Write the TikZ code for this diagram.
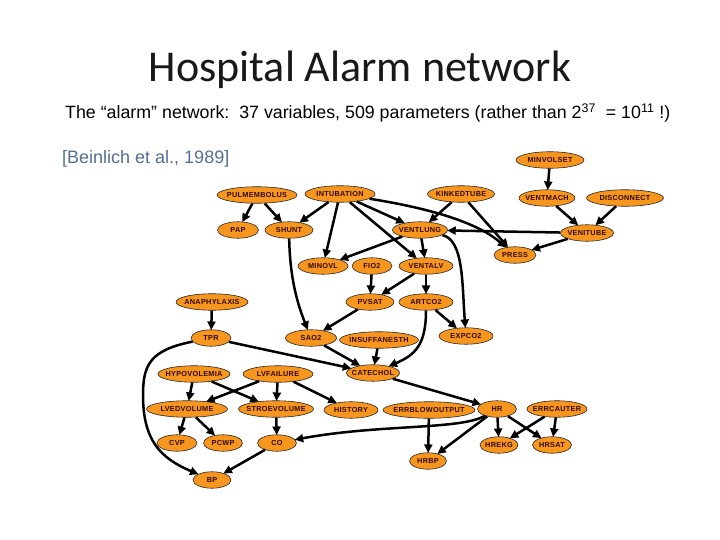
\documentclass[tikz,border=0pt]{standalone}
\usepackage{fontspec}
\setmainfont{Liberation Sans}
\newfontfamily\titlefont{Carlito}
\newfontfamily\nodefont[LetterSpace=4]{Liberation Sans}
\usetikzlibrary{shapes.geometric,arrows.meta}
\definecolor{nodeorange}{RGB}{247,150,30}
\definecolor{nodetext}{RGB}{50,10,0}
\definecolor{citeblue}{RGB}{84,110,145}
\tikzset{
  nd/.style={ellipse, draw=black!85, line width=0.6pt, fill=nodeorange, inner sep=0pt,
    minimum height=16.5pt, text=nodetext, font=\nodefont\bfseries\fontsize{7.3}{8}\selectfont},
  edge/.style={-{Triangle[length=8.5pt,width=8pt]}, line width=2.5pt, black, shorten >=-0.5pt}
}
\newcommand\anode[5]{\node[nd, minimum width=#4pt] (#1) at (#2,#3) {\makebox[0pt]{#5}};}
\begin{document}
\begin{tikzpicture}[x=1pt,y=-1pt]
\useasboundingbox (0,0) rectangle (720,540);
\node[font=\titlefont\fontsize{44}{52}\selectfont, text=black!90, anchor=base] (title) at (360,82) {Hospital Alarm network};
\node[font=\fontsize{17.8}{21}\selectfont, anchor=base west, inner sep=0pt] (sub) at (65,119)
  {The “alarm” network:\ \ 37 variables, 509 parameters (rather than 2\textsuperscript{37}\ \ = 10\textsuperscript{11}\ !)};
\node[font=\fontsize{18}{21}\selectfont, text=citeblue, anchor=base west, inner sep=0pt] (cite) at (62,164) {[Beinlich et al., 1989]};

\anode{minvolset}{550}{160}{68}{MINVOLSET}
\anode{ventmach}{547}{198}{56}{VENTMACH}
\anode{disconnect}{625}{198}{77}{DISCONNECT}
\anode{venitube}{587}{233}{53}{VENITUBE}
\anode{press}{515}{255}{42}{PRESS}
\anode{kinkedtube}{461}{194}{67}{KINKEDTUBE}
\anode{intubation}{340}{194}{70}{INTUBATION}
\anode{ventlung}{420}{230}{55}{VENTLUNG}
\anode{pulmembolus}{257}{195}{80}{PULMEMBOLUS}
\anode{pap}{238}{230}{41}{PAP}
\anode{shunt}{289}{230}{48}{SHUNT}
\anode{minovl}{323}{266}{50}{MINOVL}
\anode{fio2}{372}{266}{40}{FIO2}
\anode{ventalv}{426}{266}{54}{VENTALV}
\anode{pvsat}{370}{302}{48}{PVSAT}
\anode{artco2}{426}{302}{54}{ARTCO2}
\anode{anaphylaxis}{212}{302}{72}{ANAPHYLAXIS}
\anode{tpr}{211}{338}{40}{TPR}
\anode{sao2}{311}{338}{51}{SAO2}
\anode{insuffanesth}{379}{340}{79}{INSUFFANESTH}
\anode{expco2}{466}{336}{54}{EXPCO2}
\anode{catechol}{373}{373}{53}{CATECHOL}
\anode{hypovolemia}{194}{374}{72}{HYPOVOLEMIA}
\anode{lvfailure}{278}{374}{70}{LVFAILURE}
\anode{lvedvolume}{187}{409}{81}{LVEDVOLUME}
\anode{stroevolume}{276}{409}{75}{STROEVOLUME}
\anode{history}{351}{410}{54}{HISTORY}
\anode{errblowoutput}{429}{410}{92}{ERRBLOWOUTPUT}
\anode{hr}{497}{409}{39}{HR}
\anode{errcauter}{557}{409}{60}{ERRCAUTER}
\anode{hrekg}{499}{445}{38}{HREKG}
\anode{hrsat}{552}{445}{39}{HRSAT}
\anode{hrbp}{428}{461}{37}{HRBP}
\anode{cvp}{177}{443}{40}{CVP}
\anode{pcwp}{223}{443}{39}{PCWP}
\anode{co}{277}{443}{39}{CO}
\anode{bp}{212}{480}{38}{BP}

\draw[edge] (minvolset) -- (ventmach);
\draw[edge] (ventmach) -- (venitube);
\draw[edge] (disconnect) -- (venitube);
\draw[edge] (venitube) -- (press);
\draw[edge] (venitube) -- (ventlung);
\draw[edge] (kinkedtube) -- (ventlung);
\draw[edge] (kinkedtube) -- (press);
\draw[edge] (intubation) .. controls (440,210) and (480,225) .. (press);
\draw[edge] (intubation) -- (ventlung);
\draw[edge] (intubation) -- (shunt);
\draw[edge] (intubation) -- (minovl);
\draw[edge] (intubation) -- (ventalv);
\draw[edge] (pulmembolus) -- (pap);
\draw[edge] (pulmembolus) -- (shunt);
\draw[edge] (shunt) .. controls (290,280) and (298,305) .. (sao2);
\draw[edge] (ventlung) -- (minovl);
\draw[edge] (ventlung) -- (ventalv);
\draw[edge] (ventlung) .. controls (464,240) and (462,285) .. (expco2);
\draw[edge] (fio2) -- (pvsat);
\draw[edge] (ventalv) -- (pvsat);
\draw[edge] (ventalv) -- (artco2);
\draw[edge] (pvsat) -- (sao2);
\draw[edge] (artco2) -- (expco2);
\draw[edge] (artco2) .. controls (426,345) and (415,355) .. (catechol);
\draw[edge] (anaphylaxis) -- (tpr);
\draw[edge] (tpr) -- (catechol);
\draw[edge] (tpr) .. controls (150,350) and (143,365) .. (143,395) .. controls (143,440) and (160,458) .. (bp);
\draw[edge] (sao2) -- (catechol);
\draw[edge] (insuffanesth) -- (catechol);
\draw[edge] (catechol) -- (hr);
\draw[edge] (hypovolemia) -- (lvedvolume);
\draw[edge] (hypovolemia) -- (stroevolume);
\draw[edge] (lvfailure) -- (lvedvolume);
\draw[edge] (lvfailure) -- (stroevolume);
\draw[edge] (lvfailure) -- (history);
\draw[edge] (lvedvolume) -- (cvp);
\draw[edge] (lvedvolume) -- (pcwp);
\draw[edge] (stroevolume) -- (co);
\draw[edge] (co) -- (bp);
\draw[edge] (hr) .. controls (460,430) and (380,424) .. (co);
\draw[edge] (hr) -- (hrbp);
\draw[edge] (hr) -- (hrekg);
\draw[edge] (hr) -- (hrsat);
\draw[edge] (errblowoutput) -- (hrbp);
\draw[edge] (errcauter) -- (hrekg);
\draw[edge] (errcauter) -- (hrsat);
\end{tikzpicture}
\end{document}
